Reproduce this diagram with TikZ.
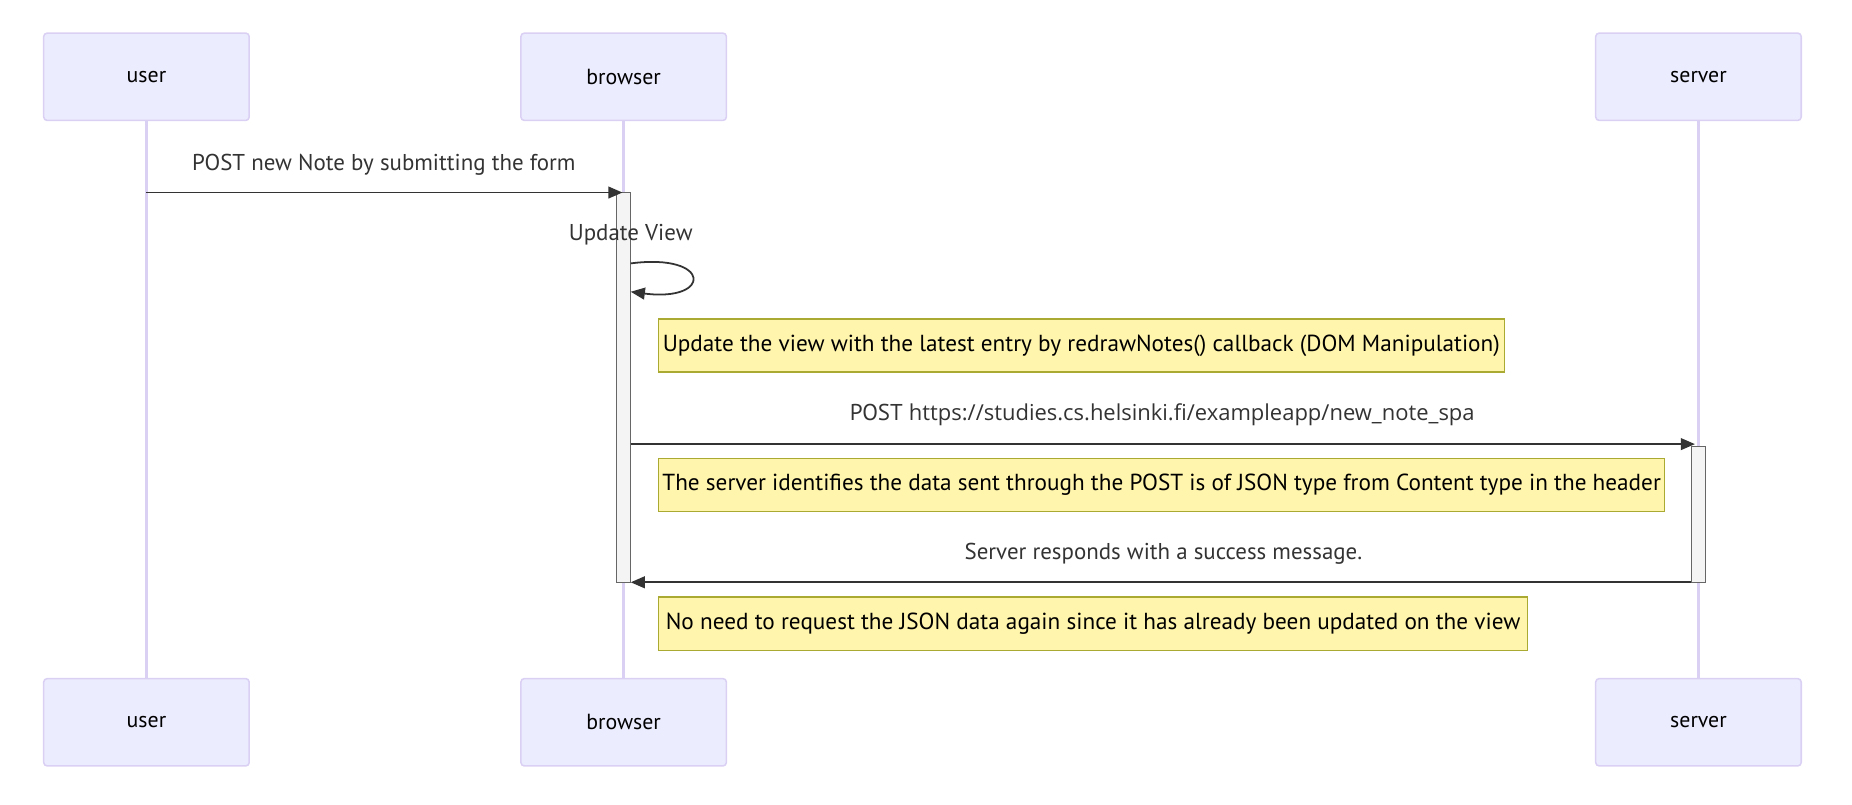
\documentclass[tikz,border=0pt]{standalone}
\usepackage{fontspec}
\setmainfont{PT Sans}
\newfontfamily\urlfont{Open Sans}
\usetikzlibrary{arrows.meta}
\definecolor{actfill}{HTML}{ECECFF}
\definecolor{actline}{HTML}{DAD0F3}
\definecolor{notefill}{HTML}{FFF5AD}
\definecolor{noteline}{HTML}{AAAA33}
\definecolor{msgcol}{HTML}{333333}
\definecolor{actvfill}{HTML}{F4F4F4}
\definecolor{actvline}{HTML}{666666}
\begin{document}
\begin{tikzpicture}[x=1pt,y=-1pt,
  actor/.style={draw=actline, fill=actfill, line width=1.3pt, rounded corners=3pt,
    minimum width=174pt, minimum height=74pt, inner sep=0pt,
    font=\fontsize{18.5}{21}\selectfont, text=black},
  lifeline/.style={draw=actline, line width=2.1pt},
  actv/.style={draw=actvline, fill=actvfill, line width=1pt, minimum width=12pt, inner sep=0pt},
  msgarrow/.style={draw=msgcol, line width=1.5pt, -{Triangle[length=12pt,width=10pt]}},
  msglabel/.style={text=msgcol, font=\fontsize{19.4}{22}\selectfont, anchor=base, inner sep=0pt},
  notebox/.style={draw=noteline, fill=notefill, line width=1pt, minimum height=45pt,
    anchor=west, inner sep=0pt, text=black, font=\fontsize{19.65}{22}\selectfont}
  ]
\useasboundingbox (0,0) rectangle (1568,681);
% actors
\node[actor] (ut) at (124,65) {user};
\node[actor] (bt) at (528,65) {browser};
\node[actor] (st) at (1438,65) {server};
\node[actor] (ub) at (124,611.5) {user};
\node[actor] (bb) at (528,611.5) {browser};
\node[actor] (sb) at (1438,611.5) {server};
% lifelines
\draw[lifeline] (ut.south) -- (ub.north);
\draw[lifeline] (bt.south) -- (bb.north);
\draw[lifeline] (st.south) -- (sb.north);
% activations
\node[actv, minimum height=330pt] (bact) at (528,328) {};
\node[actv, minimum height=115pt] (sact) at (1438,435.5) {};
% message 1
\coordinate (m1s) at (124,163);
\coordinate (m1e) at (527,163);
\draw[msgarrow] (m1s) -- (m1e);
\node[msglabel] (l1) at (325,144) {POST new Note by submitting the form};
% self message
\coordinate (s1) at (534,223);
\coordinate (s2) at (534,247);
\node[msglabel] (l2) at (534,204) {Update View};
\draw[msgarrow] (s1) .. controls (603,214) and (603,256) .. (s2);
% note 1
\node[notebox, minimum width=716pt] (n1) at (557,292.5) {Update the view with the latest entry by redrawNotes() callback (DOM Manipulation)};
% message 2
\coordinate (m2s) at (534,376);
\coordinate (m2e) at (1435,376);
\draw[msgarrow] (m2s) -- (m2e);
\node[msglabel] (l3) at (984,356) {POST {\urlfont\fontsize{18.6}{22}\selectfont https://studies.cs.helsinki.fi/exampleapp/new\_note\_spa}};
% note 2
\node[notebox, minimum width=852pt] (n2) at (557,410.5) {The server identifies the data sent through the POST is of JSON type from Content type in the header};
% message 3
\coordinate (m3s) at (1432,493);
\coordinate (m3e) at (534,493);
\draw[msgarrow] (m3s) -- (m3e);
\node[msglabel] (l4) at (985,474) {Server responds with a success message.};
% note 3
\node[notebox, minimum width=736pt] (n3) at (557,528) {No need to request the JSON data again since it has already been updated on the view};
\end{tikzpicture}
\end{document}
